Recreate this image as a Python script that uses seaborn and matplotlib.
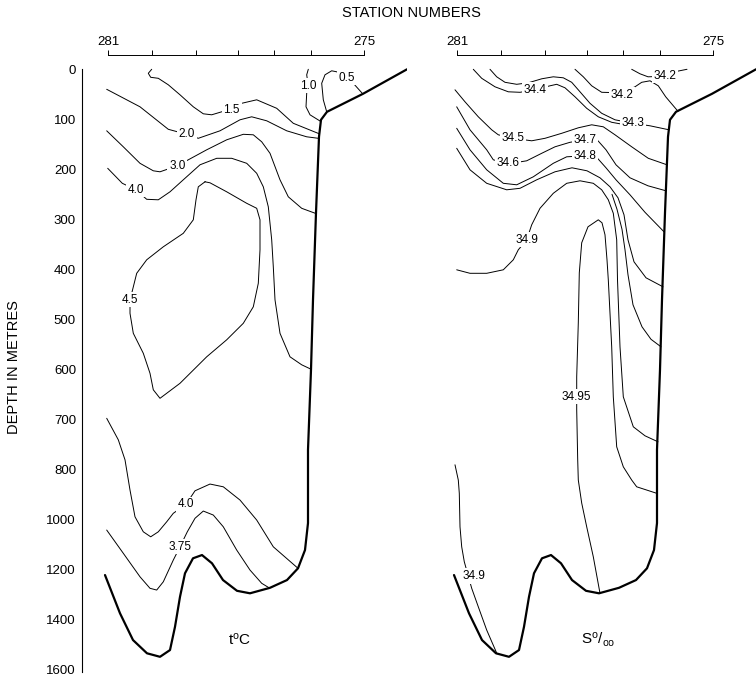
import numpy as np
import matplotlib
matplotlib.use("Agg")
import matplotlib.pyplot as plt
import seaborn as sns

sns.set_style("white")
plt.rcParams['font.family'] = ['Liberation Sans', 'DejaVu Sans']
plt.rcParams['mathtext.fontset'] = 'custom'
plt.rcParams['mathtext.rm'] = 'Liberation Sans'
plt.rcParams['mathtext.it'] = 'Liberation Sans'
plt.rcParams['text.color'] = 'k'
plt.rcParams['xtick.color'] = 'k'
plt.rcParams['ytick.color'] = 'k'
plt.rcParams['axes.labelcolor'] = 'k'

#### stations and depth axis
stations = [0, 43.5, 88, 130, 166, 203, 256]
station_labels = ['281', '', '', '', '', '', '275']
depth_ticks = [0, 100, 200, 300, 400, 500, 600, 700, 800, 1000, 1200, 1400, 1600]

#### sea floor / shelf profile (same in both sections)
bottom_x = [-3, 12, 25, 39, 52, 62, 67, 72, 77, 85, 94, 104, 115, 129, 142, 162, 179, 190,
            197, 200, 200, 203, 205, 208, 211, 213, 219, 255, 299]
bottom_d = [1223, 1376, 1483, 1536, 1550, 1523, 1430, 1310, 1216, 1156, 1143, 1176, 1243, 1286,
            1296, 1274, 1243, 1196, 1123, 1015, 761, 601, 461, 287, 135, 101, 85, 49, 0]

#### temperature isotherms
t05_x = [218.7, 215.3, 213.7, 217, 223.7, 228.7, 238.7, 245.3, 254.7]
t05_d = [85, 61, 28, 11, 3, 5, 17, 28, 49]
t10_x = [200.3, 198.7, 200.3, 198.7, 198, 202, 212.5]
t10_d = [0, 11, 33, 48, 75, 91, 104]
t15_x = [43.7, 40.3, 42.7, 50.3, 60.3, 72, 85.3, 95.3, 103.7, 123.7, 133.7, 148.7, 168.7, 185.3, 211.3]
t15_d = [0, 8, 16, 18, 31, 51, 75, 89, 91, 79, 68, 61, 78, 108, 129]
t20_x = [-1.3, 32, 60.3, 78.7, 90.3, 112, 132, 143.7, 158.7, 178.7, 198.7, 210.3]
t20_d = [40, 75, 120, 130, 138, 123, 101, 95, 103, 123, 135, 138]
t30_x = [-1.3, 15.3, 32, 45.3, 52, 69.3, 80.3, 98.7, 118.7, 135.3, 145.3, 153.7, 162, 172, 180.3, 193.7, 207.3]
t30_d = [123, 155, 188, 203, 205, 193, 181, 161, 141, 130, 131, 145, 168, 221, 255, 278, 288]
t40a_x = [-0.3, 14.3, 28, 38.7, 50.3, 62, 75.3, 92, 108.7, 123.7, 138.7, 148.7, 155.3, 160.3,
          163.7, 165.3, 167, 172, 182, 193.7, 203.2]
t40a_d = [198, 228, 241, 260, 261, 245, 221, 191, 178, 178, 188, 208, 235, 275,
          341, 395, 461, 528, 575, 591, 600]
t45_x = [97, 90.3, 88, 85.3, 75.3, 55.3, 38.7, 28.7, 23.7, 22, 22, 25.3, 35.3, 42, 45.3, 52, 72,
         98.7, 118.7, 135.3, 145.3, 150.3, 152, 152, 148.7, 138.7, 118.7, 102, 97]
t45_d = [225, 235, 261, 301, 328, 355, 381, 408, 448, 461, 488, 528, 568, 608, 641, 658, 628,
         575, 541, 508, 475, 428, 361, 301, 278, 268, 245, 227, 225]
t40b_x = [-1.3, 10.3, 17, 22, 27, 35.3, 42.7, 50.3, 58.7, 65.3, 78, 87, 102, 115.3, 132, 148.7, 165.3, 190]
t40b_d = [698, 741, 781, 883, 990, 1050, 1070, 1050, 1010, 976, 940, 886, 859, 870, 923, 1003, 1110, 1196]
t375_x = [-1.3, 15.3, 32, 42, 48.7, 55.3, 65.3, 72, 79.3, 87, 95.3, 105.3, 115.3, 128.7, 142, 153.7, 161.5]
t375_d = [1043, 1136, 1230, 1276, 1283, 1250, 1163, 1110, 1050, 996, 967, 983, 1030, 1123, 1203, 1256, 1275]

t_lines = [(t05_x, t05_d), (t10_x, t10_d), (t15_x, t15_d), (t20_x, t20_d), (t30_x, t30_d),
           (t40a_x, t40a_d), (t45_x, t45_d), (t40b_x, t40b_d), (t375_x, t375_d)]
t_labels = ['0.5', '1.0', '1.5', '2.0', '3.0', '4.0', '4.5', '4.0', '3.75']
t_lab_x = [238.7, 200.3, 123.7, 78.7, 69.3, 28, 22, 78, 72]
t_lab_d = [17, 33, 81, 130, 193, 241, 461, 940, 1110]

#### salinity isohalines
s342a_x = [174.7, 183, 191, 208, 220, 230]
s342a_d = [0, 9, 15, 14, 4, 0]
s342b_x = [118, 126.3, 134.7, 144.7, 164.7, 178, 184.7, 193, 201.3, 208.7, 221]
s342b_d = [0, 15, 33, 46, 47, 35, 26, 23, 33, 55, 84]
s343_x = [33, 39.7, 48, 59.7, 71.3, 84.7, 96.3, 106.3, 114.7, 123, 133, 144.7, 158, 176.3, 193, 212]
s343_d = [0, 15, 26, 30, 27, 19, 15, 17, 26, 45, 68, 88, 101, 108, 113, 121]
s344_x = [16.3, 24.7, 38, 51.3, 63, 78, 93, 99.7, 108, 118, 129.7, 141.3, 154.7, 163]
s344_d = [0, 18, 35, 45, 46, 41, 33, 30, 37, 55, 78, 95, 106, 109]
s345_x = [-2, 8, 21.3, 34.7, 41.3, 56.3, 74.7, 88, 104.7, 121.3, 134.7, 146.3, 158, 174.7, 191.3, 210]
s345_d = [41, 65, 95, 121, 131, 138, 143, 138, 128, 117, 111, 115, 131, 155, 178, 191]
s346_x = [-0.3, 13, 29.7, 36.3, 51.3, 69.7, 84.7, 98, 113, 128, 141, 149, 159, 173, 191, 209]
s346_d = [75, 121, 161, 181, 189, 183, 168, 155, 146, 141, 143, 161, 191, 217, 233, 243]
s348_x = [-0.3, 13, 29.7, 46.3, 59.7, 76.3, 96.3, 109.7, 128, 141, 149, 159, 173, 188, 207]
s348_d = [118, 161, 201, 228, 231, 215, 188, 175, 173, 179, 197, 221, 251, 286, 325]
s_r_x = [-0.3, 13, 29.7, 49.7, 63, 79.7, 98, 115, 130, 143, 153, 161, 167, 171, 177, 189, 206]
s_r_d = [158, 201, 228, 241, 238, 221, 205, 197, 203, 217, 235, 257, 291, 341, 385, 417, 435]
s_u_x = [155, 160, 165, 168, 171, 176, 185, 194, 204]
s_u_d = [250, 280, 320, 361, 411, 471, 515, 540, 555]
s349_x = [-0.3, 13, 29.7, 46.3, 56.3, 61.3, 69.7, 74.7, 83, 96.3, 109.7, 123, 136.3, 144.7, 151.3,
          156.3, 159.7, 160.5, 163, 166.3, 176.3, 188, 201]
s349_d = [401, 408, 408, 401, 381, 361, 341, 311, 278, 248, 228, 223, 228, 241, 261,
          288, 341, 421, 555, 655, 715, 733, 745]
s3495_x = [143, 136.3, 129.7, 124.7, 121.3, 120.7, 119.7, 119.7, 119.7, 121.3, 122.3, 124.7, 131,
           141.3, 145, 148, 150, 151.3, 154.7, 156.3, 159.7, 166.3, 174.7, 179.7, 199.7]
s3495_d = [1296, 1150, 1030, 935, 843, 781, 681, 655, 615, 507, 407, 347, 315,
           301, 307, 331, 381, 421, 555, 655, 755, 795, 843, 870, 896]
s349b_x = [-2, 1.3, 2.3, 3, 4.7, 7.3, 14.7, 21.3, 29.7, 40]
s349b_d = [791, 843, 896, 1030, 1110, 1170, 1276, 1350, 1443, 1538]

s_lines = [(s342a_x, s342a_d), (s342b_x, s342b_d), (s343_x, s343_d), (s344_x, s344_d),
           (s345_x, s345_d), (s346_x, s346_d), (s348_x, s348_d), (s_r_x, s_r_d), (s_u_x, s_u_d),
           (s349_x, s349_d), (s3495_x, s3495_d), (s349b_x, s349b_d)]
s_labels = ['34.2', '34.4', '34.2', '34.3', '34.5', '34.7', '34.6', '34.8', '34.9', '34.95', '34.9']
s_lab_x = [208, 78, 164.7, 176.3, 56.3, 128, 51.3, 128, 69.7, 119.7, 17]
s_lab_d = [13, 41, 51, 108, 138, 141, 188, 173, 341, 655, 1227]


# depth axis: 100 m per step down to 800 m, 200 m per step below
def fwd(d):
    d = np.asarray(d, dtype=float)
    return np.where(d <= 800, d / 100.0, 8 + (d - 800) / 200.0)


def inv(i):
    i = np.asarray(i, dtype=float)
    return np.where(i <= 8, i * 100.0, 800 + (i - 8) * 200.0)


def setup(ax, show_depth):
    ax.set_yscale('function', functions=(fwd, inv))
    ax.set_xlim(-26, 299)
    ax.set_ylim(1610.8, -28.6)
    for s in ['right', 'bottom']:
        ax.spines[s].set_visible(False)
    ax.spines['top'].set_bounds(0, 256)
    ax.spines['top'].set_linewidth(0.7)
    ax.spines['top'].set_color('k')
    ax.set_xticks(stations)
    ax.set_xticklabels(station_labels)
    ax.tick_params(axis='x', top=True, labeltop=True, bottom=False, labelbottom=False,
                   direction='out', length=3.6, width=0.7, color='k', labelcolor='k',
                   pad=1.5, labelsize=9.5)
    if show_depth:
        ax.spines['left'].set_bounds(0, 1610.8)
        ax.spines['left'].set_linewidth(0.8)
        ax.spines['left'].set_color('k')
        ax.set_yticks(depth_ticks)
        ax.set_yticklabels([str(v) for v in depth_ticks])
        ax.tick_params(axis='y', left=True, length=0, pad=4.3, labelsize=9.5, labelcolor='k')
    else:
        ax.spines['left'].set_visible(False)
        ax.set_yticks([])
    ax.set_xlabel('')
    ax.set_ylabel('')


def draw_section(ax, lines, labels, lab_x, lab_d):
    for xs, ds in lines:
        sns.lineplot(x=xs, y=ds, sort=False, estimator=None, color='k', linewidth=0.7, ax=ax)
    sns.lineplot(x=bottom_x, y=bottom_d, sort=False, estimator=None, color='k', linewidth=1.6, ax=ax)
    for s, x, d in zip(labels, lab_x, lab_d):
        ax.text(x, d, s, ha='center', va='center', fontsize=8.5, color='k', zorder=5,
                bbox=dict(fc='white', ec='none', pad=1.2))


fig = plt.figure(figsize=(7.56, 6.78), dpi=100)
ax_t = fig.add_axes([82 / 756, 6 / 678, 325 / 756, 617 / 678])
ax_s = fig.add_axes([431 / 756, 6 / 678, 325 / 756, 617 / 678])

draw_section(ax_t, t_lines, t_labels, t_lab_x, t_lab_d)
draw_section(ax_s, s_lines, s_labels, s_lab_x, s_lab_d)
setup(ax_t, True)
setup(ax_s, False)

ax_t.text(132, 1483, r't$^{\mathrm{o}}$C', ha='center', va='center', fontsize=11, color='k')
ax_s.text(141, 1483, r'S$^{\mathrm{o}}$/$_{\mathrm{oo}}$', ha='center', va='center', fontsize=11,
          color='k')

fig.text(411 / 756, 1 - 13 / 678, 'STATION NUMBERS', ha='center', va='center', fontsize=10.5,
         color='k')
fig.text(13.7 / 756, 1 - 367.5 / 678, 'DEPTH IN METRES', rotation=90, ha='center', va='center',
         fontsize=10.5, color='k')

fig.savefig('out.png', dpi=100)
